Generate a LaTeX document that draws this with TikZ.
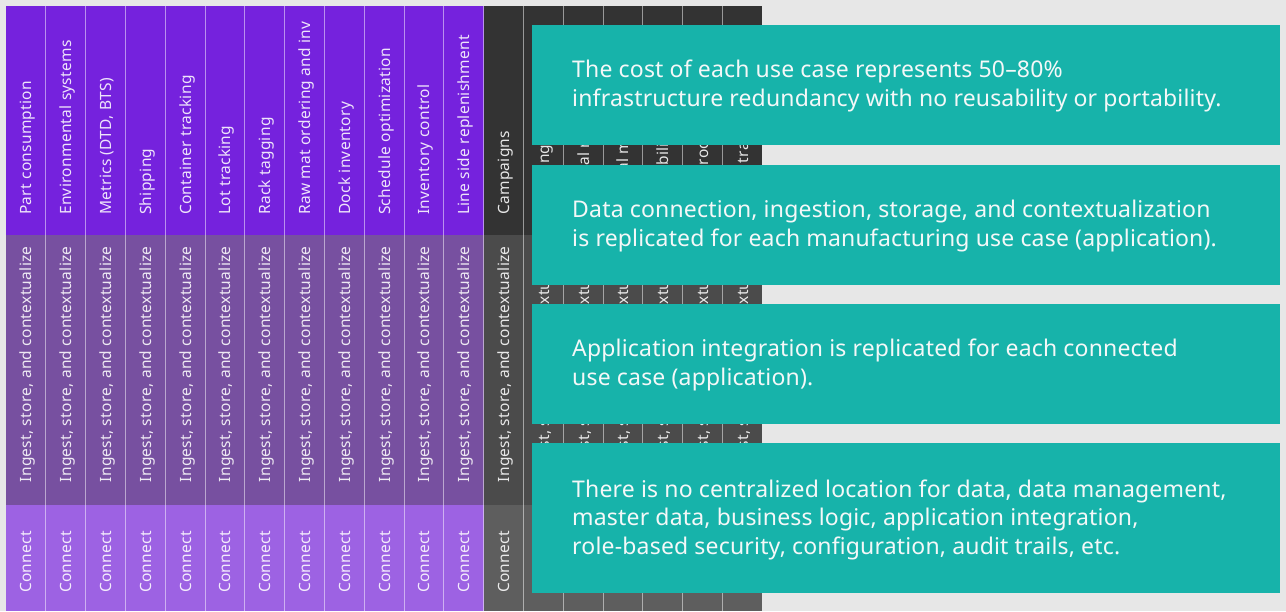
\documentclass[tikz,border=0pt]{standalone}
\usepackage{fontspec}
\setmainfont{Noto Sans}
\newfontfamily\colfont[LetterSpace=1.8]{Noto Sans}
\newfontfamily\notefont[LetterSpace=0.8]{Noto Sans}

\definecolor{pagegray}{HTML}{E7E7E7}
\definecolor{purpletop}{HTML}{7522DD}
\definecolor{purplemid}{HTML}{7750A0}
\definecolor{purplebot}{HTML}{9D62E3}
\definecolor{darktop}{HTML}{333333}
\definecolor{darkmid}{HTML}{4B4B4B}
\definecolor{darkbot}{HTML}{5E5E5E}
\definecolor{noteteal}{HTML}{17B3AA}
\definecolor{notetext}{HTML}{F4F8F8}

\tikzset{
  collab/.style={rotate=90, anchor=base west, inner sep=0pt, text=white, text opacity=0.88,
    font=\colfont\fontsize{15.5}{18}\selectfont},
  colsep/.style={draw=white, draw opacity=0.5, line width=1pt},
  notebox/.style={fill=noteteal, draw=none, anchor=north west, inner sep=0pt,
    minimum width=748pt},
  noteline/.style={anchor=base west, inner sep=0pt, text=notetext,
    font=\notefont\fontsize{23}{29}\selectfont},
}

\begin{document}
\begin{tikzpicture}[x=1pt,y=-1pt]
\useasboundingbox (0,0) rectangle (1286,611);
\fill[pagegray] (0,0) rectangle (1286,611);

% use-case columns: label row, ingest row, connect row
\foreach \lab [count=\i from 0] in {Part consumption, Environmental systems,
    {Metrics (DTD, BTS)}, Shipping, Container tracking, Lot tracking, Rack tagging,
    Raw mat ordering and inv, Dock inventory, Schedule optimization,
    Inventory control, Line side replenishment} {
  \pgfmathsetmacro\xl{6+39.8*\i}
  \fill[purpletop] (\xl,6) rectangle ++(39.8,229);
  \fill[purplemid] (\xl,235) rectangle ++(39.8,270);
  \fill[purplebot] (\xl,505) rectangle ++(39.8,106);
  \node[collab] (top-\i) at (\xl+25.9,215) {\lab};
  \node[collab] (mid-\i) at (\xl+25.9,482.5) {Ingest, store, and contextualize};
  \node[collab] (bot-\i) at (\xl+25.9,593) {Connect};
}
\foreach \lab [count=\i from 12] in {Campaigns, Sampling, Material requirements,
    Manual measurements, Traceability, Heat processing, Trailer tracking} {
  \pgfmathsetmacro\xl{6+39.8*\i}
  \fill[darktop] (\xl,6) rectangle ++(39.8,229);
  \fill[darkmid] (\xl,235) rectangle ++(39.8,270);
  \fill[darkbot] (\xl,505) rectangle ++(39.8,106);
  \node[collab] (top-\i) at (\xl+25.9,215) {\lab};
  \node[collab] (mid-\i) at (\xl+25.9,482.5) {Ingest, store, and contextualize};
  \node[collab] (bot-\i) at (\xl+25.9,593) {Connect};
}
% thin dividers between columns
\foreach \i in {1,...,18} {
  \draw[colsep] (6+39.8*\i,6) -- (6+39.8*\i,611);
}

% callout boxes
\node[notebox, minimum height=120pt] (box1) at (532,25) {};
\node[notebox, minimum height=120pt] (box2) at (532,165) {};
\node[notebox, minimum height=120pt] (box3) at (532,304) {};
\node[notebox, minimum height=150pt] (box4) at (532,443) {};

\node[noteline] (t1a) at (572,77) {The cost of each use case represents 50–80\%};
\node[noteline] (t1b) at (572,106.5) {infrastructure redundancy with no reusability or portability.};

\node[noteline] (t2a) at (572,217.5) {Data connection, ingestion, storage, and contextualization};
\node[noteline] (t2b) at (572,246.5) {is replicated for each manufacturing use case (application).};

\node[noteline] (t3a) at (572,356.7) {Application integration is replicated for each connected};
\node[noteline] (t3b) at (572,385.5) {use case (application).};

\node[noteline] (t4a) at (572,497) {There is no centralized location for data, data management,};
\node[noteline] (t4b) at (572,525.5) {master data, business logic, application integration,};
\node[noteline] (t4c) at (572,554) {role-based security, configuration, audit trails, etc.};
\end{tikzpicture}
\end{document}
